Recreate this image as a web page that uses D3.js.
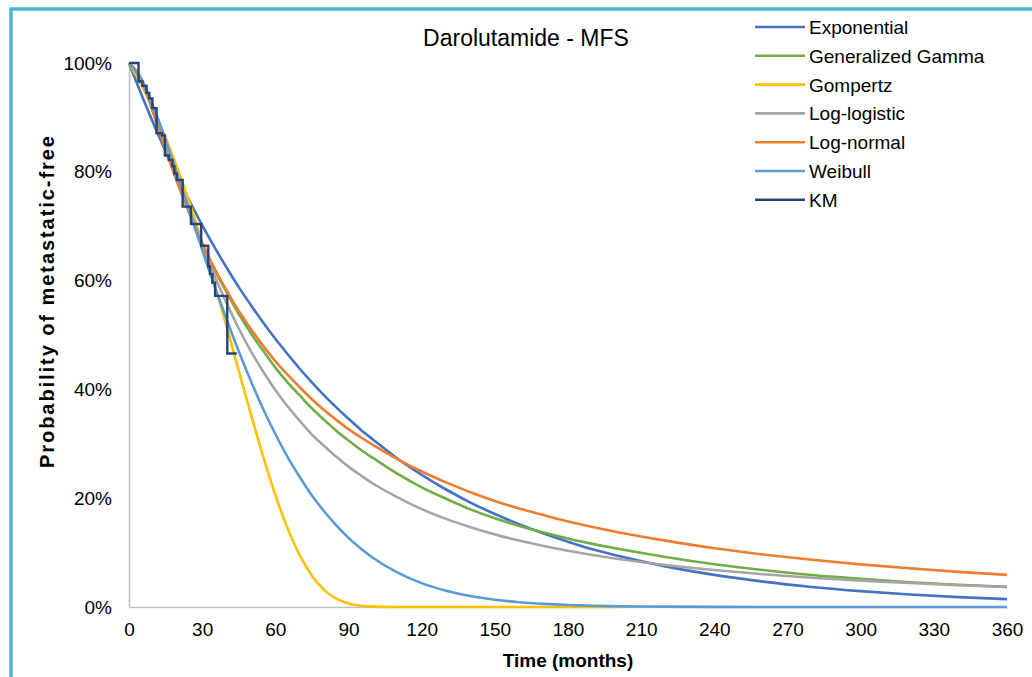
<!DOCTYPE html>
<html>
<head>
<meta charset="utf-8">
<script src="https://cdn.jsdelivr.net/npm/d3@7"></script>
<style>
  html, body { margin: 0; padding: 0; background: #fff; }
  svg { display: block; }
  text { font-family: "Liberation Sans", Arial, sans-serif; fill: #000; }
</style>
</head>
<body>
<svg id="chart" width="1032" height="677"></svg>
<script>
// ---------------- DATA ----------------
const months = [0,5,10,15,20,25,30,35,40,45,50,55,60,65,70,75,80,85,90,95,100,
  110,120,130,140,150,160,170,180,190,200,220,240,260,280,300,320,340,360];

const exponential = [1,.943,.889,.838,.790,.745,.702,.662,.624,.588,.555,.523,.493,.465,.438,.413,.389,.367,.346,.326,.308,
  .273,.243,.216,.192,.171,.152,.135,.120,.106,.0946,.0747,.0590,.0466,.0368,.0291,.0230,.0182,.0144];

const generalizedGamma = [1,.970,.909,.843,.780,.722,.669,.621,.579,.539,.503,.471,.440,.413,.389,.365,.344,.324,.306,.289,.274,
  .245,.220,.199,.1795,.163,.149,.137,.126,.116,.1075,.092,.0787,.0679,.0588,.0518,.0456,.0408,.037];

const gompertz = [1,.960,.915,.863,.805,.741,.670,.595,.516,.434,.354,.277,.206,.145,.0953,.0576,.0315,.0153,.0064,.0023,.0007,
  0,0,0,0,0,0,0,0,0,0,null,null,null,null,null,null,null,null];

const logLogistic = [1,.972,.920,.858,.793,.728,.667,.610,.559,.512,.470,.433,.399,.369,.342,.317,.296,.276,.258,.242,.227,
  .202,.180,.162,.1468,.1335,.1221,.1121,.1033,.0956,.0888,.0772,.0679,.0603,.0539,.0485,.0440,.0401,.0368];

const logNormal = [1,.970,.907,.840,.778,.721,.669,.623,.582,.544,.511,.480,.452,.427,.404,.382,.362,.344,.327,.312,.298,
  .272,.249,.229,.211,.195,.181,.169,.157,.147,.138,.122,.108,.0966,.0868,.0784,.0711,.0646,.059];

const weibull = [1,.969,.918,.857,.792,.724,.657,.591,.529,.470,.415,.364,.318,.276,.239,.205,.176,.150,.127,.1077,.0906,
  .0636,.0439,.0299,.0201,.0134,.0088,.0057,.0036,.0023,.0014,.0006,.0002,.0001,0,0,0,0,0];

const kmTime = [0,3.9,5.5,7.2,8.3,9.6,11.3,13.5,14.7,16.3,17.8,18.6,19.6,22.0,25.4,29.6,32.5,33.2,34.2,35.3,40.3,44.2];
const kmSurv = [1,.966,.958,.945,.935,.917,.871,.867,.830,.822,.810,.797,.785,.736,.704,.664,.626,.612,.596,.572,.466,.466];

const seriesNames = ["Exponential","Generalized Gamma","Gompertz","Log-logistic","Log-normal","Weibull","KM"];
const seriesColors = ["#4472C4","#70AD47","#FFC000","#A5A5A5","#ED7D31","#5B9BD5","#264478"];

const xTicks = [0,30,60,90,120,150,180,210,240,270,300,330,360];
const yTicks = [0,0.2,0.4,0.6,0.8,1.0];

const titleText = "Darolutamide - MFS";
const xLabel = "Time (months)";
const yLabel = "Probability of metastatic-free";

// ---------------- CHART ----------------
const svg = d3.select("#chart");
const plot = {left: 129, right: 1007, top: 63, bottom: 607};

// outer frame
svg.append("rect").attr("x", 11).attr("y", 9).attr("width", 1060).attr("height", 720)
  .attr("fill", "#fff").attr("stroke", "#4BB6D2").attr("stroke-width", 3.5);

const x = d3.scaleLinear().domain([0, 360]).range([plot.left, plot.right]);
const y = d3.scaleLinear().domain([0, 1]).range([plot.bottom, plot.top]);

// axes
const xAxis = svg.append("g").attr("transform", `translate(0,${plot.bottom})`)
  .call(d3.axisBottom(x).tickValues(xTicks).tickSize(0).tickSizeOuter(0).tickPadding(16).tickFormat(d3.format("d")));
const yAxis = svg.append("g").attr("transform", `translate(${plot.left},0)`)
  .call(d3.axisLeft(y).tickValues(yTicks).tickSize(0).tickSizeOuter(0).tickPadding(17).tickFormat(d3.format(".0%")));
[xAxis, yAxis].forEach(g => {
  g.select(".domain").attr("stroke", "#BFBFBF").attr("stroke-width", 1.5);
  g.selectAll("text").style("font-size", "19px").style("font-family", '"Liberation Sans", Arial, sans-serif').attr("fill", "#000");
});

// series
const allSeries = [exponential, generalizedGamma, gompertz, logLogistic, logNormal, weibull];
const line = d3.line()
  .defined(d => d[1] !== null)
  .x(d => x(d[0])).y(d => y(d[1]))
  .curve(d3.curveMonotoneX);

allSeries.forEach((vals, i) => {
  const pts = months.map((m, j) => [m, vals[j]]);
  svg.append("path").datum(pts)
    .attr("d", line)
    .attr("fill", "none")
    .attr("stroke", seriesColors[i])
    .attr("stroke-width", 2.6)
    .attr("stroke-linejoin", "round");
});

// KM step
const kmLine = d3.line().x(d => x(d[0])).y(d => y(d[1])).curve(d3.curveStepAfter);
svg.append("path").datum(kmTime.map((t, i) => [t, kmSurv[i]]))
  .attr("d", kmLine)
  .attr("fill", "none")
  .attr("stroke", seriesColors[6])
  .attr("stroke-width", 2.4);

// title
svg.append("text").attr("x", 526).attr("y", 46)
  .attr("text-anchor", "middle").style("font-size", "23px").text(titleText);

// axis labels
svg.append("text").attr("x", (plot.left + plot.right) / 2).attr("y", 667)
  .attr("text-anchor", "middle").style("font-size", "19px").style("font-weight", "bold").text(xLabel);
svg.append("text").attr("transform", `translate(54,302) rotate(-90)`)
  .attr("text-anchor", "middle").style("font-size", "20px").style("font-weight", "bold")
  .attr("textLength", 332).attr("lengthAdjust", "spacing").text(yLabel);

// legend
const legend = svg.append("g");
seriesNames.forEach((name, i) => {
  const yy = 27 + i * 28.8;
  legend.append("line").attr("x1", 755).attr("x2", 805).attr("y1", yy).attr("y2", yy)
    .attr("stroke", seriesColors[i]).attr("stroke-width", 2.6);
  legend.append("text").attr("x", 809).attr("y", yy + 7)
    .style("font-size", "19px").text(name);
});
</script>
</body>
</html>
